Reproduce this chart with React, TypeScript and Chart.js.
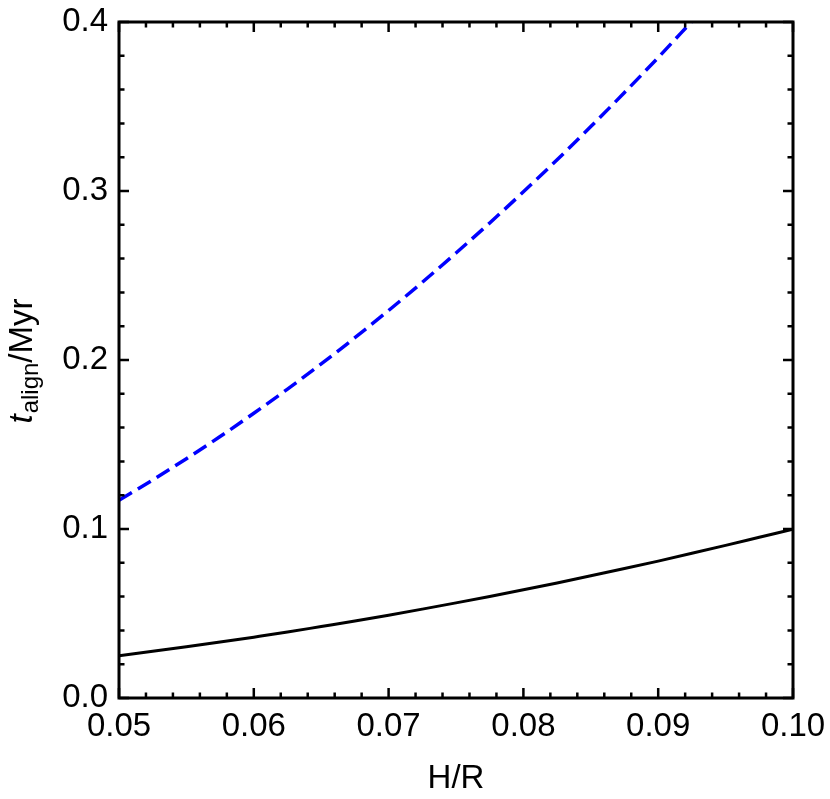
import React, { useEffect, useRef } from "react";
import { Chart, registerables } from "chart.js";

Chart.register(...registerables);

// H/R sample points
const hOverR = [0.05, 0.0525, 0.055, 0.0575, 0.06, 0.0625, 0.065, 0.0675, 0.07, 0.0725, 0.075, 0.0775, 0.08, 0.0825, 0.085, 0.0875, 0.09, 0.0925, 0.095, 0.0975, 0.1];
// solid black curve (t_align / Myr)
const solidValues = [0.025, 0.0276, 0.0303, 0.0331, 0.036, 0.039, 0.0423, 0.0456, 0.049, 0.0526, 0.0563, 0.0601, 0.064, 0.0681, 0.0723, 0.0766, 0.081, 0.0856, 0.0903, 0.0951, 0.0999];
// dashed blue curve (t_align / Myr), leaves the frame at the top near 0.0925
const dashedValues = [0.117, 0.129, 0.1416, 0.1547, 0.1685, 0.1828, 0.1977, 0.2132, 0.2293, 0.246, 0.2633, 0.2811, 0.2995, 0.3185, 0.3381, 0.3583, 0.379, 0.4004];

const xTickLabels = ["0.05", "0.06", "0.07", "0.08", "0.09", "0.10"];
const yTickLabels = ["0.0", "0.1", "0.2", "0.3", "0.4"];

const X_MIN = 0.05, X_MAX = 0.1, X_MINOR = 0.002;
const Y_MIN = 0, Y_MAX = 0.4, Y_MINOR = 0.02;

const FONT = "'Liberation Sans', Arial, sans-serif";

const framePlugin = {
  id: "framePlugin",
  afterDatasetsDraw(chart: any) {
    const { ctx, chartArea: a, scales } = chart;
    const xs = scales.x, ys = scales.y;
    ctx.save();
    ctx.strokeStyle = "#000";
    ctx.lineCap = "butt";
    ctx.lineWidth = 2.5;
    const nx = Math.round((X_MAX - X_MIN) / X_MINOR);
    for (let i = 0; i <= nx; i++) {
      const px = xs.getPixelForValue(X_MIN + i * X_MINOR);
      const len = i % 5 === 0 ? 10 : 5.5;
      ctx.beginPath();
      ctx.moveTo(px, a.bottom);
      ctx.lineTo(px, a.bottom - len);
      ctx.moveTo(px, a.top);
      ctx.lineTo(px, a.top + len);
      ctx.stroke();
    }
    const ny = Math.round((Y_MAX - Y_MIN) / Y_MINOR);
    for (let i = 0; i <= ny; i++) {
      const py = ys.getPixelForValue(Y_MIN + i * Y_MINOR);
      const len = i % 5 === 0 ? 10 : 5.5;
      ctx.beginPath();
      ctx.moveTo(a.left, py);
      ctx.lineTo(a.left + len, py);
      ctx.moveTo(a.right, py);
      ctx.lineTo(a.right - len, py);
      ctx.stroke();
    }
    ctx.lineWidth = 3;
    ctx.strokeRect(a.left, a.top, a.right - a.left, a.bottom - a.top);

    // y title: t_align/Myr
    ctx.translate(32, 361);
    ctx.rotate(-Math.PI / 2);
    ctx.fillStyle = "#000";
    ctx.textBaseline = "alphabetic";
    ctx.textAlign = "left";
    const mainFont = `33px ${FONT}`;
    const italFont = `italic 33px ${FONT}`;
    const subFont = `24px ${FONT}`;
    ctx.font = italFont;
    const wt = ctx.measureText("t").width;
    ctx.font = subFont;
    const wa = ctx.measureText("align").width;
    ctx.font = mainFont;
    const wm = ctx.measureText("/Myr").width;
    const total = wt + wa + wm + 1;
    let u = -total / 2;
    ctx.font = italFont;
    ctx.fillText("t", u, 0);
    u += wt + 1;
    ctx.font = subFont;
    ctx.fillText("align", u, 6);
    u += wa;
    ctx.font = mainFont;
    ctx.fillText("/Myr", u, 0);
    ctx.restore();
  },
};

export default function App() {
  const ref = useRef<HTMLCanvasElement | null>(null);

  useEffect(() => {
    if (!ref.current) return;
    const chart = new Chart(ref.current, {
      type: "line",
      data: {
        datasets: [
          {
            label: "solid",
            data: hOverR.map((x, i) => ({ x, y: solidValues[i] })),
            borderColor: "#000000",
            borderWidth: 3,
            pointRadius: 0,
            cubicInterpolationMode: "monotone",
            fill: false,
          },
          {
            label: "dashed",
            data: dashedValues.map((y, i) => ({ x: hOverR[i], y })),
            borderColor: "#0000ff",
            borderWidth: 3.5,
            borderDash: [15, 7],
            pointRadius: 0,
            cubicInterpolationMode: "monotone",
            fill: false,
          },
        ],
      },
      options: {
        animation: false,
        responsive: false,
        maintainAspectRatio: false,
        events: [],
        layout: { padding: { top: 22, right: 37, bottom: 0, left: 0 } },
        plugins: {
          legend: { display: false },
          tooltip: { enabled: false },
          title: { display: false },
        },
        scales: {
          x: {
            type: "linear",
            min: X_MIN,
            max: X_MAX,
            grid: { display: false, drawTicks: false },
            border: { display: false },
            afterFit: (s: any) => {
              s.height = 101;
              s.paddingLeft = 0;
              s.paddingRight = 0;
            },
            afterBuildTicks: (s: any) => {
              s.ticks = xTickLabels.map((l) => ({ value: parseFloat(l) }));
            },
            ticks: {
              color: "#000",
              font: { family: FONT, size: 33 },
              padding: 9,
              maxRotation: 0,
              autoSkip: false,
              callback: (v: any) => {
                const idx = xTickLabels.findIndex((l) => Math.abs(parseFloat(l) - v) < 1e-9);
                return idx >= 0 ? xTickLabels[idx] : "";
              },
            },
            title: {
              display: true,
              text: "H/R",
              color: "#000",
              font: { family: FONT, size: 33 },
              padding: { top: 0, bottom: 0 },
            },
          },
          y: {
            type: "linear",
            min: Y_MIN,
            max: Y_MAX,
            grid: { display: false, drawTicks: false },
            border: { display: false },
            afterFit: (s: any) => {
              s.width = 119;
              s.paddingTop = 0;
              s.paddingBottom = 0;
            },
            afterBuildTicks: (s: any) => {
              s.ticks = yTickLabels.map((l) => ({ value: parseFloat(l) }));
            },
            ticks: {
              color: "#000",
              font: { family: FONT, size: 33 },
              padding: 11,
              autoSkip: false,
              callback: (v: any) => {
                const idx = yTickLabels.findIndex((l) => Math.abs(parseFloat(l) - v) < 1e-9);
                return idx >= 0 ? yTickLabels[idx] : "";
              },
            },
          },
        },
      },
      plugins: [framePlugin],
    });
    return () => chart.destroy();
  }, []);

  return (
    <div style={{ position: "fixed", left: 0, top: 0, width: 830, height: 799, background: "#fff" }}>
      <canvas ref={ref} width={830} height={799} style={{ width: 830, height: 799, display: "block" }} />
    </div>
  );
}
